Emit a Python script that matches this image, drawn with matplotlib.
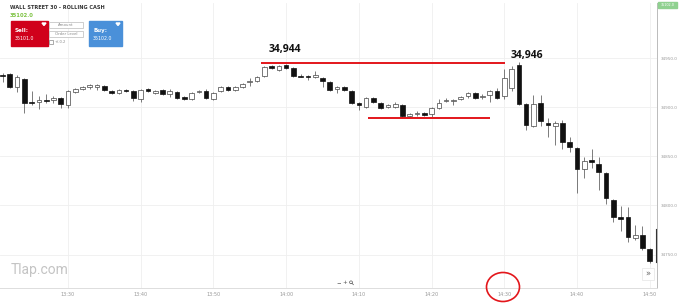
import matplotlib
matplotlib.use('Agg')
import matplotlib.pyplot as plt
import matplotlib.dates as mdates
import matplotlib.transforms as mtransforms
from matplotlib.patches import Rectangle, Ellipse, Polygon, Circle
import pandas as pd

# 1-minute candles, 13:21 -> 14:50
start_time = '2021-06-01 13:21'
opens = [34933, 34934, 34921, 34929, 34905, 34905, 34907, 34907, 34909, 34902,
         34915, 34918, 34921, 34921, 34922, 34916, 34914, 34917, 34916, 34908,
         34918, 34914, 34917, 34913, 34915, 34910, 34908, 34915, 34916, 34908,
         34916, 34921, 34917, 34921, 34926, 34927, 34932, 34942, 34938, 34943,
         34940, 34932, 34932, 34931, 34930, 34926, 34918, 34921, 34916, 34904,
         34900, 34909, 34904, 34900, 34900, 34902, 34891, 34893, 34894, 34893,
         34899, 34906, 34906, 34908, 34911, 34914, 34910, 34912, 34916, 34911,
         34920, 34943, 34903, 34881, 34904, 34884, 34881, 34884, 34865, 34858,
         34837, 34846, 34842, 34833, 34806, 34788, 34788, 34767, 34770, 34756]
highs = [34935, 34935, 34933, 34930, 34916, 34911, 34913, 34911, 34910, 34917,
         34920, 34922, 34924, 34924, 34923, 34917, 34918, 34918, 34917, 34918,
         34920, 34917, 34918, 34919, 34916, 34911, 34915, 34917, 34918, 34915,
         34922, 34922, 34922, 34925, 34930, 34932, 34942, 34943, 34943, 34944,
         34941, 34934, 34933, 34937, 34931, 34927, 34922, 34922, 34917, 34905,
         34910, 34910, 34905, 34903, 34905, 34903, 34894, 34896, 34895, 34900,
         34908, 34909, 34908, 34911, 34915, 34915, 34913, 34917, 34920, 34939,
         34942, 34946, 34904, 34912, 34912, 34889, 34886, 34887, 34870, 34859,
         34849, 34857, 34849, 34834, 34807, 34799, 34798, 34780, 34779, 34757]
lows = [34926, 34920, 34915, 34894, 34902, 34898, 34904, 34904, 34899, 34899,
        34914, 34917, 34918, 34917, 34916, 34913, 34913, 34915, 34906, 34905,
        34915, 34913, 34912, 34910, 34908, 34907, 34907, 34914, 34908, 34907,
        34915, 34916, 34916, 34920, 34922, 34926, 34931, 34939, 34937, 34939,
        34931, 34931, 34928, 34930, 34921, 34916, 34914, 34916, 34903, 34897,
        34899, 34904, 34898, 34899, 34899, 34889, 34890, 34891, 34891, 34890,
        34898, 34905, 34902, 34907, 34909, 34908, 34908, 34905, 34908, 34908,
        34916, 34902, 34877, 34880, 34881, 34870, 34862, 34857, 34854, 34813,
        34828, 34838, 34816, 34801, 34783, 34774, 34763, 34765, 34755, 34741]
closes = [34932, 34921, 34931, 34904, 34904, 34907, 34906, 34909, 34903, 34916,
          34919, 34921, 34923, 34923, 34917, 34914, 34917, 34916, 34909, 34917,
          34916, 34916, 34913, 34916, 34909, 34908, 34914, 34916, 34909, 34914,
          34921, 34917, 34921, 34924, 34927, 34931, 34941, 34940, 34942, 34940,
          34932, 34931, 34931, 34933, 34927, 34917, 34921, 34917, 34904, 34902,
          34909, 34905, 34899, 34902, 34903, 34891, 34893, 34894, 34892, 34899,
          34904, 34907, 34907, 34910, 34914, 34909, 34911, 34916, 34909, 34930,
          34939, 34903, 34882, 34903, 34886, 34882, 34884, 34865, 34859, 34837,
          34845, 34844, 34834, 34808, 34788, 34786, 34768, 34770, 34757, 34743]

y_ticks = [34750, 34800, 34850, 34900, 34950]
resistance_level = 34945
resistance_span = ('2021-06-01 13:56:30', '2021-06-01 14:30:06')
support_level = 34889
support_span = ('2021-06-01 14:11:18', '2021-06-01 14:28:00')
high_labels = ['34,944', '34,946']
high_label_pos = [('2021-06-01 13:59:48', 34959), ('2021-06-01 14:33:06', 34953)]
range_marker = (34742, 34776)

times = pd.date_range(start_time, periods=len(opens), freq='min')
x = mdates.date2num(times)
minute = 1 / 1440.0

fig = plt.figure(figsize=(6.79, 3.05), dpi=100)
ax = fig.add_axes([0, 17 / 305, 657 / 679, 285 / 305])

for xi, o, h, l, c in zip(x, opens, highs, lows, closes):
    ax.vlines(xi, l, h, color='#666666', lw=0.6, zorder=2)
    lo, hi = min(o, c), max(o, c)
    height = max(hi - lo, 0.9)
    if c > o:
        ax.bar(xi, height, bottom=lo, width=0.64 * minute, facecolor='white',
               edgecolor='#444444', linewidth=0.5, zorder=3)
    else:
        ax.bar(xi, height, bottom=lo, width=0.64 * minute, facecolor='#111111',
               edgecolor='#111111', linewidth=0.5, zorder=3)

# support / resistance
rs = mdates.date2num(pd.to_datetime(list(resistance_span)))
ss = mdates.date2num(pd.to_datetime(list(support_span)))
ax.hlines(resistance_level, rs[0], rs[1], color='#e3161b', lw=1.4, zorder=4)
ax.hlines(support_level, ss[0], ss[1], color='#e3161b', lw=1.4, zorder=4)
for lab, (t, p) in zip(high_labels, high_label_pos):
    ax.text(mdates.date2num(pd.Timestamp(t)), p, lab, ha='center', va='center',
            fontsize=7.5, fontweight='bold', family='Open Sans', color='#111111')

ax.set_xlim(x[0] - 0.35 * minute, x[-1] + 1.0 * minute)
ax.set_ylim(34716, 35006)
ax.xaxis.set_major_locator(mdates.MinuteLocator(byminute=[0, 10, 20, 30, 40, 50]))
ax.xaxis.set_major_formatter(mdates.DateFormatter('%H:%M'))
ax.yaxis.tick_right()
ax.set_yticks(y_ticks)
ax.set_yticklabels([f'{v:.1f}' for v in y_ticks])
ax.tick_params(axis='x', labelsize=3.5, colors='#999999', length=0, pad=3)
ax.tick_params(axis='y', labelsize=3.0, colors='#999999', length=0, pad=3)
ax.grid(True, color='#efefef', lw=0.6)
ax.set_axisbelow(True)
for s in ['left', 'top']:
    ax.spines[s].set_visible(False)
ax.spines['right'].set_color('#bbbbbb')
ax.spines['bottom'].set_color('#dddddd')
ax.spines['right'].set_linewidth(0.7)
ax.spines['bottom'].set_linewidth(0.7)

# current range marker on the price axis
trans = mtransforms.blended_transform_factory(ax.transAxes, ax.transData)
ax.plot([0.998, 0.998], list(range_marker), color='#333333', lw=0.8,
        transform=trans, clip_on=False, zorder=5)

# overlay in pixel coordinates for the trading widget and annotations
ov = fig.add_axes([0, 0, 1, 1], zorder=10)
ov.set_xlim(0, 679)
ov.set_ylim(305, 0)
ov.axis('off')
ov.patch.set_alpha(0)

ov.text(10, 7.5, 'WALL STREET 30 - ROLLING CASH', fontsize=3.6, fontweight='bold',
        color='#333333', va='center')
ov.text(10, 15.5, '35102.0', fontsize=3.8, fontweight='bold', color='#7dc242', va='center')
ov.add_patch(Rectangle((11, 21), 37, 25, color='#d0011b'))
ov.add_patch(Polygon([[42, 23], [46, 23], [44, 25.5]], color='white'))
ov.text(15, 30.5, 'Sell:', fontsize=4, fontweight='bold', color='white', va='center')
ov.text(15, 38.5, '35101.0', fontsize=3.4, color='white', va='center')
ov.add_patch(Rectangle((49, 22), 34, 6, facecolor='white', edgecolor='#bbbbbb', lw=0.5))
ov.text(66, 25, 'Amount', fontsize=2.8, color='#888888', ha='center', va='center')
ov.add_patch(Rectangle((49, 31), 34, 6, facecolor='white', edgecolor='#bbbbbb', lw=0.5))
ov.text(66, 34, 'Order Level', fontsize=2.8, color='#888888', ha='center', va='center')
ov.add_patch(Rectangle((49, 40), 3.5, 3.5, facecolor='white', edgecolor='#888888', lw=0.5))
ov.text(55, 41.8, '+/-0.2', fontsize=2.6, color='#888888', va='center')
ov.add_patch(Rectangle((89, 21), 33, 25, color='#4a90d9'))
ov.add_patch(Polygon([[116, 23], [120, 23], [118, 25.5]], color='white'))
ov.text(93, 30.5, 'Buy:', fontsize=4, fontweight='bold', color='white', va='center')
ov.text(93, 38.5, '35102.0', fontsize=3.4, color='white', va='center')

ov.text(11, 270, 'Tlap.com', fontsize=10, color='#c4c4c4', va='center', family='Roboto')
# zoom controls: minus, plus, magnifier icon
ov.text(339, 283, '\u2212', fontsize=4, color='#555555', ha='center', va='center')
ov.text(345, 283, '+', fontsize=4, color='#555555', ha='center', va='center')
ov.add_patch(Circle((351, 282.3), 1.4, fill=False, edgecolor='#555555', lw=0.5))
ov.plot([352, 353.4], [283.3, 284.7], color='#555555', lw=0.5)
ov.add_patch(Rectangle((642, 268), 12, 12, facecolor='white', edgecolor='#e5e5e5', lw=0.5))
ov.text(648, 274, '\u00bb', fontsize=6, color='#666666', ha='center', va='center')
ov.add_patch(Ellipse((503, 287), 33, 29, fill=False, edgecolor='#e3161b', lw=1.2))
ov.add_patch(Rectangle((658, 1.5), 19, 6, color='#8fd18f'))
ov.text(667.5, 4.5, '35102.0', fontsize=2.4, color='white', ha='center', va='center')

fig.savefig('out.png', dpi=100, facecolor='white')
